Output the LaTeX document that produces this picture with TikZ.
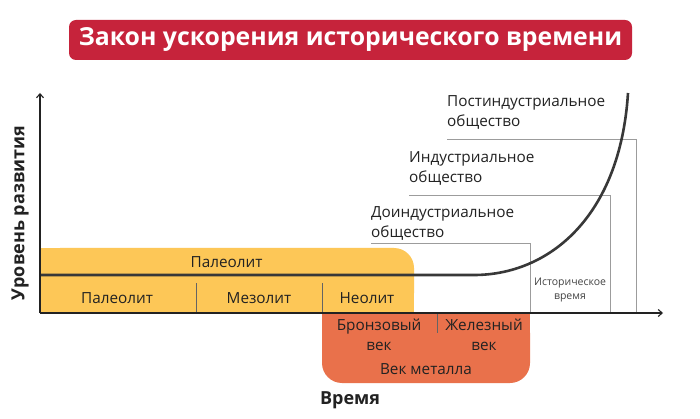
\documentclass[tikz,border=0pt]{standalone}
\usepackage{fontspec}
\setmainfont{Open Sans}
\usetikzlibrary{arrows.meta}
\definecolor{titlered}{HTML}{C6233B}
\definecolor{yel}{HTML}{FDC757}
\definecolor{org}{HTML}{E9714B}
\definecolor{ink}{HTML}{222222}
\definecolor{grayln}{HTML}{9C9C9C}
\begin{document}
\begin{tikzpicture}[x=1pt,y=-1pt,
  lbl/.style={font=\fontsize{15.3}{20}\selectfont, text=ink, inner sep=0pt, align=left},
  cell/.style={font=\fontsize{15.3}{20}\selectfont, text=ink, inner sep=0pt, align=center},
  small/.style={font=\fontsize{10.5}{14}\selectfont, text=ink!85, inner sep=0pt, align=center},
  axislabel/.style={font=\bfseries\fontsize{18}{21}\selectfont, text=ink, inner sep=0pt},
  axis/.style={draw=ink, line width=1.1pt, -{Straight Barb[length=4pt,width=7pt]}},
  bracket/.style={draw=grayln, line width=0.9pt},
  divider/.style={draw=ink!70, line width=0.6pt}]
\useasboundingbox (0,0) rectangle (700,419);
\fill[white] (0,0) rectangle (700,419);
% title
\node[fill=titlered, rounded corners=7pt, minimum width=563pt, minimum height=40pt,
  text=white, font=\bfseries\fontsize{24.8}{28}\selectfont, inner sep=0pt] (title) at (350.5,40)
  {Закон ускорения исторического времени};
% yellow block
\fill[yel, rounded corners=20pt] (40,248) rectangle (414,313);
\fill[yel] (40,248) rectangle (394,313);
\fill[yel] (40,268) rectangle (414,313);
% orange block
\fill[org, rounded corners=20pt] (322,313) rectangle (530,383);
\fill[org] (322,313) rectangle (530,350);
% dividers
\coordinate (d1t) at (196,283); \coordinate (d1b) at (196,313);
\coordinate (d2t) at (322,283); \coordinate (d2b) at (322,313);
\coordinate (d3t) at (437,313); \coordinate (d3b) at (437,333);
\draw[divider] (d1t) -- (d1b);
\draw[divider] (d2t) -- (d2b);
\draw[divider] (d3t) -- (d3b);
% society brackets
\coordinate (b1a) at (371,243); \coordinate (b1b) at (530,243); \coordinate (b1c) at (530,313);
\coordinate (b2a) at (409,195); \coordinate (b2b) at (610,195); \coordinate (b2c) at (610,313);
\coordinate (b3a) at (447,139); \coordinate (b3b) at (636,139); \coordinate (b3c) at (636,313);
\draw[bracket] (b1a) -- (b1b) -- (b1c);
\draw[bracket] (b2a) -- (b2b) -- (b2c);
\draw[bracket] (b3a) -- (b3b) -- (b3c);
% curve
\coordinate (c0) at (40,275); \coordinate (c1) at (474,275); \coordinate (c2) at (628,93);
\draw[ink!90, line width=2.6pt] (c0) -- (c1) .. controls (548,275) and (620,218) .. (c2);
% axes
\coordinate (O) at (40,313); \coordinate (Ytop) at (40,93); \coordinate (Xend) at (663,313);
\draw[axis] (O) -- (Ytop);
\draw[axis] (O) -- (Xend);
% labels
\node[cell] (pal) at (226.5,262) {Палеолит};
\node[cell] (pal2) at (117,298) {Палеолит};
\node[cell] (mez) at (259,298) {Мезолит};
\node[cell] (neo) at (367,298) {Неолит};
\node[cell] (bron) at (379,335) {Бронзовый\\век};
\node[cell] (iron) at (484,335) {Железный\\век};
\node[cell] (metal) at (426,369) {Век металла};
\node[small] (hist) at (570,290) {Историческое\\время};
\node[lbl, anchor=south west] (pre) at (371,241) {Доиндустриальное\\общество};
\node[lbl, anchor=south west] (ind) at (409,186) {Индустриальное\\общество};
\node[lbl, anchor=south west] (post) at (447,130) {Постиндустриальное\\общество};
\node[axislabel] (time) at (350,400) {Время};
\node[axislabel, rotate=90] (level) at (20,213) {Уровень развития};
\end{tikzpicture}
\end{document}
